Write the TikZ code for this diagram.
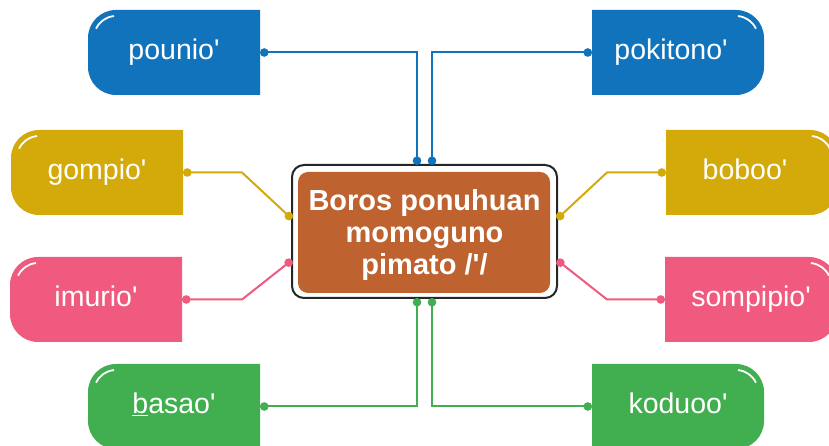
\documentclass[tikz,border=0pt]{standalone}
\usepackage{fontspec}
\newfontfamily\lsans{Liberation Sans}
\usetikzlibrary{arrows.meta}
\definecolor{cblue}{RGB}{17,115,187}
\definecolor{cyellow}{RGB}{212,169,10}
\definecolor{cpink}{RGB}{240,90,126}
\definecolor{cgreen}{RGB}{65,174,80}
\definecolor{cbrown}{RGB}{190,98,48}
\tikzset{
  leaf/.style={minimum width=172pt, minimum height=85pt, inner sep=0pt, outer sep=0pt,
    text=white, font=\lsans\fontsize{28.5}{32}\selectfont, text height=20pt, text depth=5pt},
  leafL/.style={leaf, path picture={
    \fill[#1] (path picture bounding box.north east) -- ([xshift=28pt]path picture bounding box.north west)
      arc[start angle=90,end angle=180,radius=28pt] -- ([yshift=28pt]path picture bounding box.south west)
      arc[start angle=180,end angle=270,radius=28pt] -- (path picture bounding box.south east) -- cycle;
    \draw[white,line width=1.8pt] ([shift={(28pt,-28pt)}]path picture bounding box.north west) ++(155:22pt)
      arc[start angle=155,end angle=95,radius=22pt];}},
  leafR/.style={leaf, path picture={
    \fill[#1] (path picture bounding box.north west) -- ([xshift=-28pt]path picture bounding box.north east)
      arc[start angle=90,end angle=0,radius=28pt] -- ([yshift=28pt]path picture bounding box.south east)
      arc[start angle=0,end angle=-90,radius=28pt] -- (path picture bounding box.south west) -- cycle;
    \draw[white,line width=1.8pt] ([shift={(-28pt,-28pt)}]path picture bounding box.north east) ++(85:22pt)
      arc[start angle=85,end angle=25,radius=22pt];}},
  conn/.style={draw=#1, line width=2pt, {Circle[length=8.5pt]}-{Circle[length=8.5pt]}},
  hub/.style={draw=black!85, line width=2pt, rounded corners=12pt, minimum width=265pt,
    minimum height=133pt, outer sep=0pt, inner sep=0pt, align=center, text=white,
    font=\lsans\bfseries\fontsize{29}{32}\selectfont, text depth=0pt,
    path picture={\fill[cbrown, rounded corners=10pt]
      ([shift={(6pt,-7pt)}]path picture bounding box.north west) rectangle
      ([shift={(-7pt,5pt)}]path picture bounding box.south east);}}
}
\begin{document}
\begin{tikzpicture}[x=1pt,y=1pt]
\useasboundingbox (0,0) rectangle (829,446);
\node[hub] (c) at (424.5,214.5) {Boros ponuhuan\\momoguno\\pimato /'/};
\node[leafL=cblue] (pounio) at (174,393.5) {pounio'};
\node[leafR=cblue] (pokitono) at (678,393.5) {\hspace*{-14pt}pokitono'};
\node[leafL=cyellow] (gompio) at (97,273.5) {gompio'};
\node[leafR=cyellow] (boboo) at (752,273.5) {\hspace*{-14pt}boboo'};
\node[leafL=cpink] (imurio) at (96,146.5) {imurio'};
\node[leafR=cpink] (sompipio) at (751,146.5) {sompipio'};
\node[leafL=cgreen] (basao) at (174,39.5) {\underline{b}asao'};
\node[leafR=cgreen] (koduoo) at (678,39.5) {koduoo'};
\coordinate (gb) at ([xshift=59pt]gompio.east);
\coordinate (ib) at ([xshift=60pt]imurio.east);
\coordinate (bb) at ([xshift=-59pt]boboo.west);
\coordinate (sb) at ([xshift=-58pt]sompipio.west);
\draw[conn=cblue] (pounio.east) -| ([xshift=-7.5pt]c.north);
\draw[conn=cblue] (pokitono.west) -| ([xshift=7.5pt]c.north);
\draw[conn=cgreen] (basao.east) -| ([xshift=-7.5pt]c.south);
\draw[conn=cgreen] (koduoo.west) -| ([xshift=7.5pt]c.south);
\draw[conn=cyellow] (gompio.east) -- (gb) -- ([yshift=12.5pt]c.west);
\draw[conn=cyellow] (boboo.west) -- (bb) -- ([yshift=12.5pt]c.east);
\draw[conn=cpink] (imurio.east) -- (ib) -- ([yshift=-28.5pt]c.west);
\draw[conn=cpink] (sompipio.west) -- (sb) -- ([yshift=-28.5pt]c.east);
\end{tikzpicture}
\end{document}
